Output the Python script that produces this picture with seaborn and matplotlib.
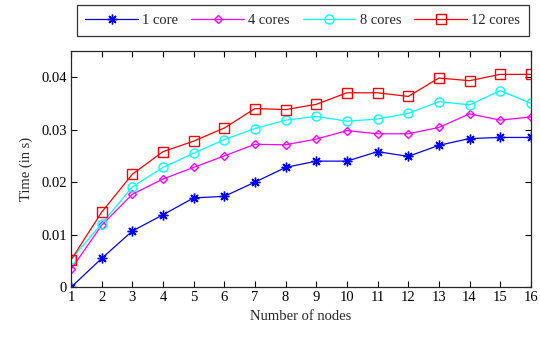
import numpy as np
import pandas as pd
import seaborn as sns
import matplotlib
matplotlib.use('Agg')
import matplotlib.pyplot as plt

nodes = list(range(1, 17))
core1 = [0.0, 0.0055, 0.0107, 0.0138, 0.0170, 0.0173, 0.0200, 0.0228,
         0.0240, 0.0240, 0.0258, 0.0249, 0.0270, 0.0283, 0.0285, 0.0285]
cores4 = [0.0034, 0.0118, 0.0177, 0.0206, 0.0228, 0.0250, 0.0272, 0.0271,
          0.0282, 0.0298, 0.0292, 0.0292, 0.0304, 0.0330, 0.0318, 0.0324]
cores8 = [0.0053, 0.0121, 0.0191, 0.0228, 0.0255, 0.0281, 0.0302, 0.0318,
          0.0325, 0.0316, 0.0320, 0.0331, 0.0353, 0.0347, 0.0374, 0.0350]
cores12 = [0.0052, 0.0143, 0.0215, 0.0258, 0.0278, 0.0303, 0.0340, 0.0338,
           0.0348, 0.0370, 0.0370, 0.0363, 0.0398, 0.0393, 0.0405, 0.0405]
series_names = ['1 core', '4 cores', '8 cores', '12 cores']

df = pd.DataFrame({'nodes': nodes * 4,
                   'time': core1 + cores4 + cores8 + cores12,
                   'series': [s for s in series_names for _ in nodes]})

sns.set_style('ticks')
plt.rcParams['font.family'] = ['Liberation Serif', 'DejaVu Serif']
plt.rcParams['font.size'] = 10.5

fig = plt.figure(figsize=(5.4, 3.37), dpi=100)
ax = fig.add_axes([0.1315, 0.1475, 0.8515, 0.702])

palette = {'1 core': '#0000ff', '4 cores': '#ff00ff',
           '8 cores': '#00ffff', '12 cores': '#ff0000'}
# asterisk for 1 core, like the original
markers = {'1 core': (8, 2, 0), '4 cores': 'D', '8 cores': 'o', '12 cores': 's'}
sizes = {'1 core': 7, '4 cores': 4.5, '8 cores': 6.5, '12 cores': 6.5}

for name in series_names:
  sub = df[df.series == name]
  sns.lineplot(data=sub, x='nodes', y='time', ax=ax, color=palette[name],
               marker=markers[name], markersize=sizes[name], linewidth=0.9,
               markerfacecolor='none', markeredgecolor=palette[name],
               markeredgewidth=1.0, label=name)

ax.set_xlim(1, 16)
ax.set_ylim(0, 0.045)
ax.set_xticks(nodes)
ax.set_yticks([0, 0.01, 0.02, 0.03, 0.04])
ax.set_yticklabels(['0', '0.01', '0.02', '0.03', '0.04'])
ax.tick_params(direction='in', top=True, right=True, length=4, width=0.8,
               colors='black', labelsize=10.5, pad=3)
for sp in ax.spines.values():
  sp.set_linewidth(0.9)
ax.set_xlabel('Number of nodes', fontsize=10.5, labelpad=4)
ax.set_ylabel('Time (in s)', fontsize=10.5, labelpad=6)

leg = ax.legend(loc='upper center', bbox_to_anchor=(0.504, 1.193), ncol=4,
                frameon=True, fancybox=False, edgecolor='black',
                fontsize=10.5, handlelength=3.6, columnspacing=0.9,
                handletextpad=0.3, borderpad=0.6, borderaxespad=0)
leg.get_frame().set_linewidth(0.9)

fig.savefig('out.png', dpi=100)
